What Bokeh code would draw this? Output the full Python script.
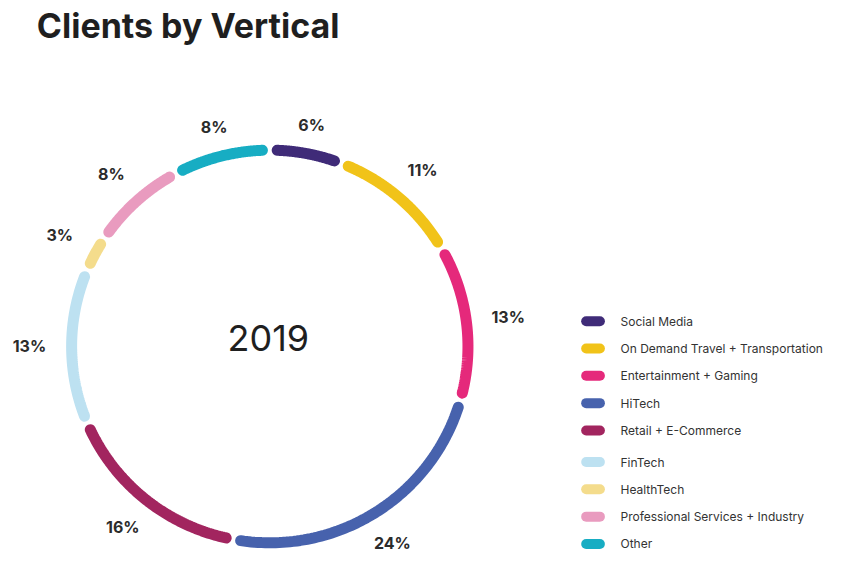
import numpy as np
from bokeh.plotting import figure
from bokeh.models import Range1d
from bokeh.core.properties import value
from bokeh.embed import file_html
from bokeh.resources import INLINE

# ---- data ----
categories = ["Social Media", "On Demand Travel + Transportation", "Entertainment + Gaming",
              "HiTech", "Retail + E-Commerce", "FinTech", "HealthTech",
              "Professional Services + Industry", "Other"]
shares = [6, 11, 13, 24, 16, 13, 3, 8, 8]
colors = ["#3f2b78", "#f1c319", "#e5297b", "#4762ad", "#a2255f",
          "#bde1f1", "#f4dc8c", "#e99bbf", "#17adc3"]
title_text = "Clients by Vertical"
year_text = "2019"

FONT = "Inter"
W, H = 827, 552
p = figure(width=W, height=H, output_backend="svg", toolbar_location=None,
           x_range=Range1d(0, 843), y_range=Range1d(568, 0),
           min_border=0)
p.axis.visible = False
p.grid.visible = False
p.outline_line_color = None
p.background_fill_color = "white"
p.border_fill_color = "white"

# ring geometry
cx, cy, r = 274.5, 356.0, 202.0
lw = 11
gap_px = 4.0
total = float(sum(shares))

xs, ys, lx, ly, labels = [], [], [], [], []
acc = 0.0
for v in shares:
    a0 = acc / total * 2 * np.pi
    a1 = (acc + v) / total * 2 * np.pi
    d = (lw / 2 + gap_px / 2) / r
    t = np.linspace(a0 + d, a1 - d, 80)
    xs.append(list(cx + r * np.sin(t)))
    ys.append(list(cy - r * np.cos(t)))
    am = (a0 + a1) / 2
    rl = r + 27 + 16 * abs(np.sin(am))
    lx.append(cx + rl * np.sin(am))
    ly.append(cy - rl * np.cos(am))
    labels.append(f"{v}%")
    acc += v

p.multi_line(xs=xs, ys=ys, line_color=colors, line_width=lw, line_cap="round")
p.text(x=lx, y=ly, text=labels, text_font=value(FONT), text_font_style="bold",
       text_font_size="16px", text_color="#2b2b2b", text_align="center",
       text_baseline="middle")

# center year
p.text(x=[cx - 1.5], y=[cy - 9], text=[year_text], text_font=value(FONT),
       text_font_size="36px", text_color="#1f1f1f", text_align="center",
       text_baseline="middle")

# title
p.text(x=[37], y=[26], text=[title_text], text_font=value(FONT),
       text_font_style="bold", text_font_size="34px", text_color="#1f1f1f",
       text_align="left", text_baseline="middle")

# legend
ly0, step, extra = 330, 28.1, 4.4
leg_y = [ly0 + i * step + (extra if i >= 5 else 0) for i in range(len(categories))]
p.multi_line(xs=[[597, 611]] * len(categories), ys=[[y, y] for y in leg_y],
             line_color=colors, line_width=10, line_cap="round")
p.text(x=[632] * len(categories), y=leg_y, text=categories, text_font=value(FONT),
       text_font_size="12px", text_color="#333333", text_align="left",
       text_baseline="middle")

open("out.html", "w").write(file_html(p, INLINE))
